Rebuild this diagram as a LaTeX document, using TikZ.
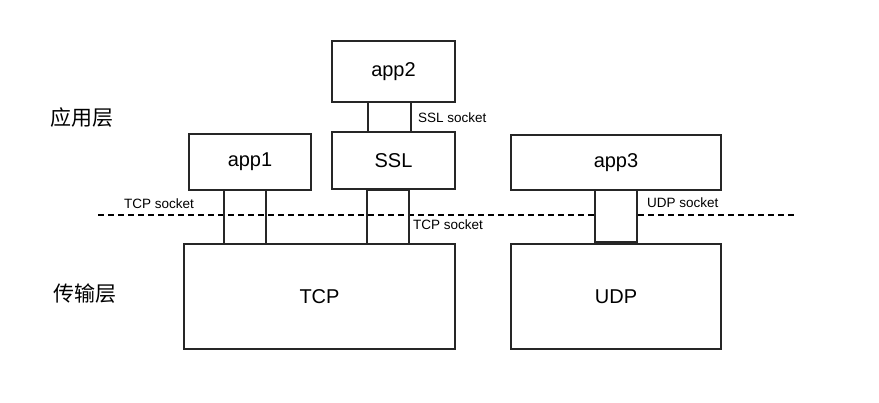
\documentclass[tikz,border=0pt]{standalone}
\usepackage{fontspec}
\setmainfont{Liberation Sans}
\newfontfamily\cjkfont{Noto Sans CJK SC}
\begin{document}
\begin{tikzpicture}[x=1pt,y=-1pt]
\tikzset{
  blk/.style={draw=black!85, line width=2pt, inner sep=0pt, font=\fontsize{20}{24}\selectfont},
  sock/.style={draw=black!85, line width=2pt, inner sep=0pt},
  lbl/.style={inner sep=0pt, font=\fontsize{13.5}{16}\selectfont, anchor=west},
  layer/.style={inner sep=0pt, font=\cjkfont\fontsize{21}{25}\selectfont},
  sep/.style={line width=1.5pt, dash pattern=on 6pt off 4pt}
}
\useasboundingbox (0,0) rectangle (879,403);
% dashed separator
\coordinate (dl) at (98,215);
\coordinate (dr) at (797,215);
\draw[sep] (dl) -- (dr);
% layer labels
\node[layer] (yy) at (82,118) {应用层};
\node[layer] (cs) at (85,294) {传输层};
% main boxes
\node[blk, minimum width=123pt, minimum height=61pt] (app2) at (393.5,71.5) {app2};
\node[blk, minimum width=123pt, minimum height=57pt] (ssl) at (393.5,161) {SSL};
\node[blk, minimum width=122pt, minimum height=56pt] (app1) at (250,162) {app1};
\node[blk, minimum width=210pt, minimum height=55pt] (app3) at (616,162.5) {app3};
\node[blk, minimum width=271pt, minimum height=105pt] (tcp) at (319.5,296.5) {TCP};
\node[blk, minimum width=210pt, minimum height=105pt] (udp) at (616,296.5) {UDP};
% socket connectors
\node[sock, minimum width=43pt, minimum height=30pt] (s1) at (389.5,117) {};
\node[sock, minimum width=42pt, minimum height=54pt] (s2) at (245,217) {};
\node[sock, minimum width=42pt, minimum height=54pt] (s3) at (388,217) {};
\node[sock, fill=white, minimum width=42pt, minimum height=52pt] (s4) at (616,216) {};
% socket labels
\node[lbl] (l1) at (418,118) {SSL socket};
\node[lbl] (l2) at (124,203.5) {TCP socket};
\node[lbl] (l3) at (413,225) {TCP socket};
\node[lbl] (l4) at (647,203) {UDP socket};
\end{tikzpicture}
\end{document}
